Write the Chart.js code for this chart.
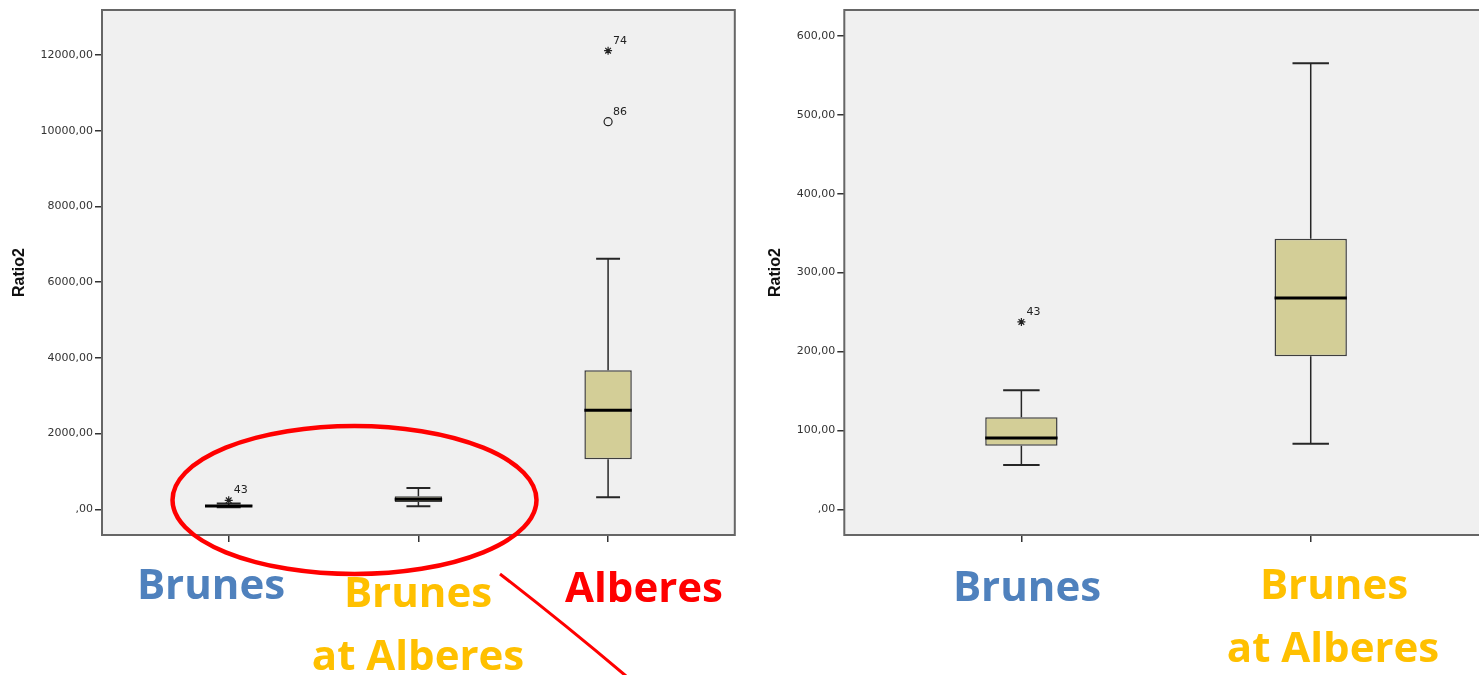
<!DOCTYPE html>
<html>
<head>
<meta charset="utf-8">
<script src="https://cdn.jsdelivr.net/npm/chart.js@4.4.1/dist/chart.umd.min.js"></script>
<style>
  html, body { margin: 0; padding: 0; background: #fff; }
  body { position: relative; width: 1479px; height: 675px; overflow: hidden; }
  #allGroups { position: absolute; left: 0; top: 0; }
  #twoGroups { position: absolute; left: 740px; top: 0; }
  #notes { position: absolute; left: 0; top: 0; pointer-events: none; }
  .lab { font-family: "Open Sans", sans-serif; font-weight: 700; font-size: 42px; text-anchor: middle; }
</style>
</head>
<body>
<canvas id="allGroups" width="740" height="545"></canvas>
<canvas id="twoGroups" width="753" height="545"></canvas>
<svg id="notes" width="1479" height="675" viewBox="0 0 1479 675">
  <ellipse cx="354.5" cy="500" rx="182" ry="74" fill="none" stroke="#ff0000" stroke-width="4.5"/>
  <path d="M500 574 Q562 622 626 676" fill="none" stroke="#ff0000" stroke-width="3"/>
  <text class="lab" x="211" y="599" fill="#4f81bd">Brunes</text>
  <text class="lab" x="418" y="607" fill="#ffc000">Brunes</text>
  <text class="lab" x="418" y="670" fill="#ffc000">at Alberes</text>
  <text class="lab" x="644" y="602" fill="#ff0000">Alberes</text>
  <text class="lab" x="1027" y="601" fill="#4f81bd">Brunes</text>
  <text class="lab" x="1334" y="599" fill="#ffc000">Brunes</text>
  <text class="lab" x="1333" y="662" fill="#ffc000">at Alberes</text>
</svg>
<script>
// Ratio2 summary per group: whisker ends, quartiles and medians
const groups      = ['Brunes', 'Brunes at Alberes', 'Alberes'];
const whiskerLow  = [56.1, 83.1, 317];
const quartile1   = [80.6, 193.9, 1321];
const medians     = [90.4, 267.8, 2616];
const quartile3   = [116.6, 343.0, 3672];
const whiskerHigh = [150.8, 565.3, 6621];

// individual cases outside the whiskers
const outlierGroup = [0, 2, 2];
const outlierValue = [237.4, 12116, 10240];
const outlierCase  = ['43', '74', '86'];
const outlierStyle = ['star', 'star', 'circle'];

// y-axis tick values for the full view and the two-group view
const ticksAll  = [0, 2000, 4000, 6000, 8000, 10000, 12000];
const ticksZoom = [0, 100, 200, 300, 400, 500, 600];

const ink = '#262626';

function fmt(v) {
  const s = Number(v).toFixed(2).replace('.', ',');
  return Number(v) === 0 ? s.slice(1) : s;
}

function boxDatasets(n) {
  const half = 0.125, cap = 0.063;
  const ds = [{
    type: 'bar', order: 3,
    data: groups.slice(0, n).map((g, i) => ({ x: i, y: [quartile1[i], quartile3[i]] })),
    backgroundColor: '#d3ce97', borderColor: '#3e3e3e', borderWidth: 1.5,
    borderSkipped: false, barPercentage: 0.25, categoryPercentage: 1
  }];
  const seg = (pts, w, color, order) => ds.push({
    type: 'line', order, data: pts, borderColor: color, borderWidth: w,
    pointRadius: 0, fill: false, tension: 0
  });
  for (let i = 0; i < n; i++) {
    seg([{ x: i, y: whiskerLow[i] }, { x: i, y: quartile1[i] }], 1.5, ink, 2);
    seg([{ x: i, y: quartile3[i] }, { x: i, y: whiskerHigh[i] }], 1.5, ink, 2);
    seg([{ x: i - cap, y: whiskerLow[i] }, { x: i + cap, y: whiskerLow[i] }], 2, ink, 2);
    seg([{ x: i - cap, y: whiskerHigh[i] }, { x: i + cap, y: whiskerHigh[i] }], 2, ink, 2);
    seg([{ x: i - half, y: medians[i] }, { x: i + half, y: medians[i] }], 3, '#000', 1);
  }
  outlierValue.forEach((v, k) => {
    if (outlierGroup[k] >= n) return;
    ds.push({
      type: 'line', order: 1, showLine: false,
      data: [{ x: outlierGroup[k], y: v }],
      pointStyle: outlierStyle[k], pointRadius: 4, pointHoverRadius: 4,
      pointBorderColor: '#222', pointBackgroundColor: 'rgba(0,0,0,0)', pointBorderWidth: 1.2,
      caseLabel: outlierCase[k]
    });
  });
  return ds;
}

// plot panel background, frame and case numbers next to outliers
const panel = {
  id: 'panel',
  beforeDraw(chart) {
    const { ctx, chartArea: a } = chart;
    ctx.save();
    ctx.fillStyle = '#f0f0f0';
    ctx.fillRect(a.left, a.top, a.right - a.left, a.bottom - a.top);
    ctx.restore();
  },
  afterDatasetsDraw(chart) {
    const { ctx } = chart;
    ctx.save();
    ctx.font = '11px "DejaVu Sans"';
    ctx.fillStyle = '#222';
    ctx.textAlign = 'left';
    ctx.textBaseline = 'alphabetic';
    chart.data.datasets.forEach((d, i) => {
      if (!d.caseLabel) return;
      const pt = chart.getDatasetMeta(i).data[0];
      ctx.fillText(d.caseLabel, pt.x + 5, pt.y - 7);
    });
    ctx.restore();
  },
  afterDraw(chart) {
    const { ctx, chartArea: a } = chart;
    ctx.save();
    ctx.strokeStyle = '#666';
    ctx.lineWidth = 2;
    ctx.strokeRect(a.left, a.top, a.right - a.left, a.bottom - a.top);
    ctx.restore();
  }
};

function makeChart(id, n, yMin, yMax, yTicks, xMin, xMax, axisWidth, titlePad, padRight) {
  return new Chart(document.getElementById(id), {
    type: 'bar',
    data: { datasets: boxDatasets(n) },
    plugins: [panel],
    options: {
      responsive: false,
      animation: false,
      events: [],
      layout: { padding: { top: 10, right: padRight, bottom: 0, left: 0 } },
      plugins: { legend: { display: false }, tooltip: { enabled: false } },
      scales: {
        x: {
          type: 'linear', min: xMin, max: xMax, offset: false,
          afterBuildTicks: s => { s.ticks = groups.slice(0, n).map((g, i) => ({ value: i })); },
          afterFit: s => { s.height = 10; s.paddingLeft = 0; s.paddingRight = 0; },
          ticks: { display: false },
          grid: { drawOnChartArea: false, drawTicks: true, tickLength: 7, color: '#333', lineWidth: 1.5, offset: false },
          border: { display: false }
        },
        y: {
          type: 'linear', min: yMin, max: yMax,
          afterBuildTicks: s => { s.ticks = yTicks.map(v => ({ value: v })); },
          afterFit: s => { s.width = axisWidth; s.paddingTop = 0; s.paddingBottom = 0; },
          ticks: { callback: v => fmt(v), font: { family: 'DejaVu Sans', size: 11 }, color: '#333', padding: 2 },
          grid: { drawOnChartArea: false, drawTicks: true, tickLength: 7, color: '#333', lineWidth: 1.5 },
          border: { display: false },
          title: {
            display: true, text: 'Ratio2', color: '#111',
            font: { family: 'Liberation Sans', size: 16, weight: 'bold' },
            padding: { top: titlePad, bottom: 0 }
          }
        }
      }
    }
  });
}

makeChart('allGroups', 3, -679, 13191, ticksAll, -0.668, 2.668, 102, 10.4, 4);
makeChart('twoGroups', 2, -32.6, 632.8, ticksZoom, -0.612, 1.612, 104.3, 26.2, 0);
</script>
</body>
</html>
